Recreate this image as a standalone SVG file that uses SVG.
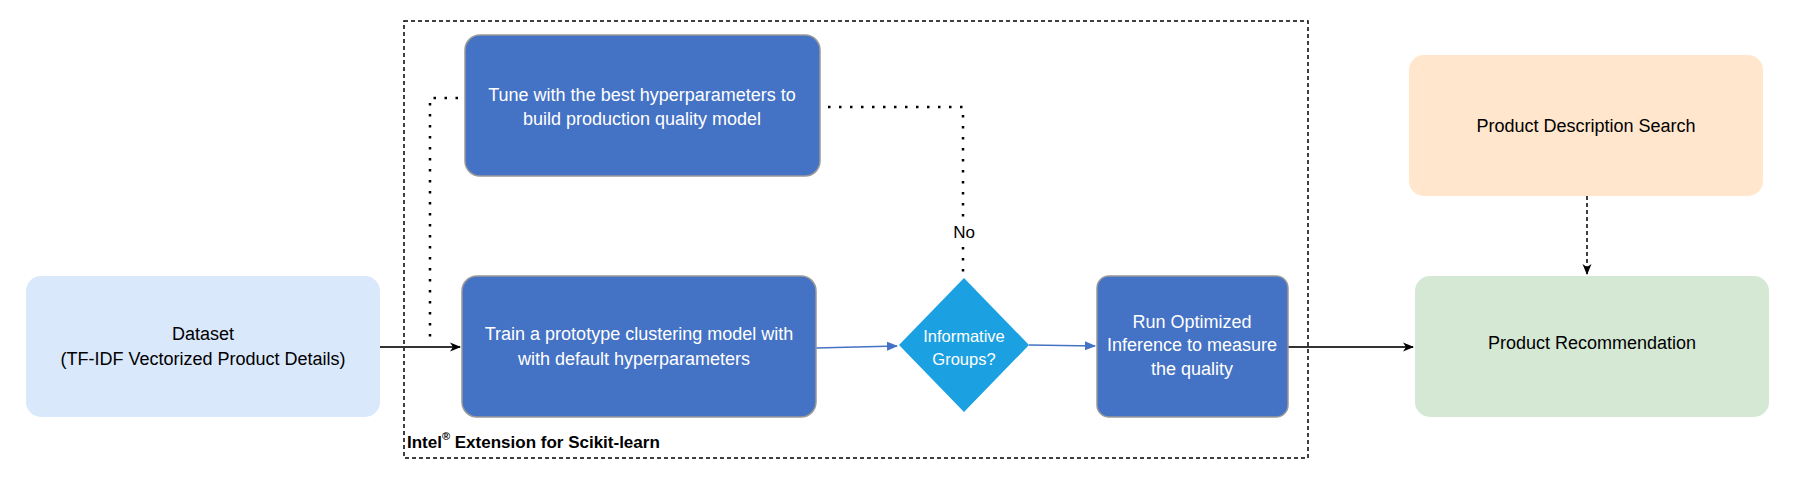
<svg xmlns="http://www.w3.org/2000/svg" width="1795" height="481" viewBox="0 0 1795 481">
<defs>
<marker id="arrBlack" markerWidth="12" markerHeight="12" refX="10" refY="6" orient="auto" markerUnits="userSpaceOnUse">
<path d="M0,1.5 L11,6 L0,10.5 L3,6 Z" fill="#000"/>
</marker>
<marker id="arrBlue" markerWidth="12" markerHeight="12" refX="10" refY="6" orient="auto" markerUnits="userSpaceOnUse">
<path d="M0,1.5 L11,6 L0,10.5 Z" fill="#4472C4"/>
</marker>
</defs>
<style>
text{font-family:"Liberation Sans",Arial,sans-serif;font-size:18px;text-anchor:middle;dominant-baseline:central}
.w{fill:#fff}
.k{fill:#000}
.blue{fill:#4472C4;stroke:#999;stroke-width:1.5}
.solid{fill:none;stroke:#333;stroke-width:2}
.bl{fill:none;stroke:#4472C4;stroke-width:1.5}
.dot{fill:none;stroke:#000;stroke-width:2.5;stroke-dasharray:2.5 8.5}
.dash{fill:none;stroke:#000;stroke-width:1.5;stroke-dasharray:4 3}
</style>
<rect width="1795" height="481" fill="#fff"/>
<g id="container">
<rect x="404" y="21" width="904" height="437" fill="none" stroke="#000" stroke-width="1.5" stroke-dasharray="4 3"/>
<text x="407" y="442" class="k" style="text-anchor:start;font-weight:bold;font-size:17px">Intel<tspan font-size="11" dy="-6">®</tspan><tspan dy="6"> Extension for Scikit-learn</tspan></text>
</g>
<g id="connectors">
<path class="solid" d="M380,347 L460,347" marker-end="url(#arrBlack)"/>
<path class="dot" d="M458,98 L430,98 L430,343"/>
<path class="dot" d="M828,107 L963,107 L963,276"/>
<path class="bl" d="M816,348 L897,346" marker-end="url(#arrBlue)"/>
<path class="bl" d="M1029,345 L1095,346" marker-end="url(#arrBlue)"/>
<path class="solid" d="M1288,347 L1413,347" marker-end="url(#arrBlack)"/>
<path class="dash" d="M1587,196 L1587,274" marker-end="url(#arrBlack)"/>
<rect x="951" y="221" width="24" height="22" fill="#fff"/>
<text x="964" y="232" class="k" style="font-size:17px">No</text>
</g>
<g id="dataset">
<rect x="26" y="276" width="354" height="141" rx="15" fill="#DAE8FC"/>
<text x="203" y="334" class="k">Dataset</text>
<text x="203" y="359" class="k">(TF-IDF Vectorized Product Details)</text>
</g>
<g id="tune">
<rect x="465" y="35" width="355" height="141" rx="15" class="blue"/>
<text x="642" y="95" class="w">Tune with the best hyperparameters to</text>
<text x="642" y="119" class="w">build production quality model</text>
</g>
<g id="train">
<rect x="462" y="276" width="354" height="141" rx="15" class="blue"/>
<text x="639" y="334" class="w">Train a prototype clustering model with</text>
<text x="634" y="359" class="w">with default hyperparameters</text>
</g>
<g id="decision">
<path d="M964,278 L1029,345 L964,412 L899,345 Z" fill="#1BA1E2"/>
<text x="964" y="336" class="w" style="font-size:16.5px">Informative</text>
<text x="964" y="359" class="w" style="font-size:16.5px">Groups?</text>
</g>
<g id="run">
<rect x="1097" y="276" width="191" height="141" rx="12" class="blue"/>
<text x="1192" y="322" class="w">Run Optimized</text>
<text x="1192" y="345" class="w">Inference to measure</text>
<text x="1192" y="369" class="w">the quality</text>
</g>
<g id="search">
<rect x="1409" y="55" width="354" height="141" rx="15" fill="#FFE6CC"/>
<text x="1586" y="126" class="k">Product Description Search</text>
</g>
<g id="recommendation">
<rect x="1415" y="276" width="354" height="141" rx="15" fill="#D5E8D4"/>
<text x="1592" y="343" class="k">Product Recommendation</text>
</g>
</svg>
